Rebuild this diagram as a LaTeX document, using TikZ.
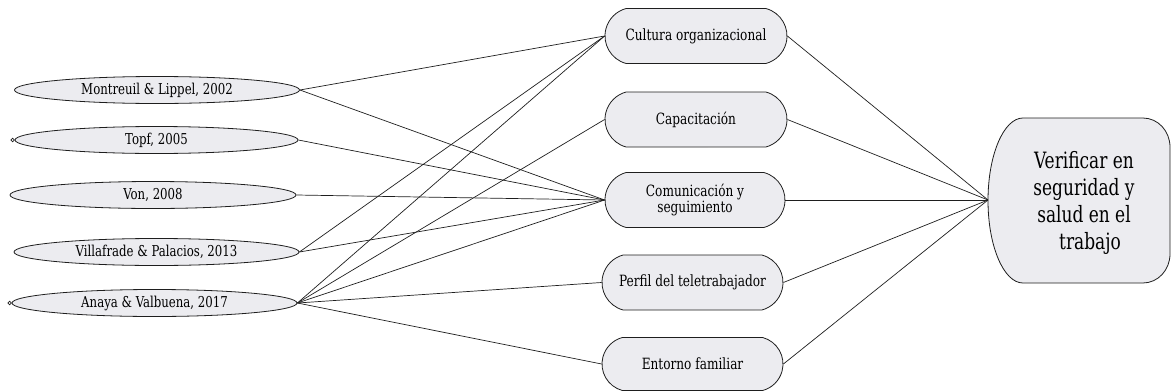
\documentclass[tikz,border=0pt]{standalone}
\usepackage{fontspec}
\setmainfont{DejaVu Serif Condensed}[FakeStretch=0.87]
\newfontfamily\bigfont{DejaVu Serif Condensed}[FakeStretch=0.84]
\usetikzlibrary{shapes.geometric,shapes.misc}
\definecolor{nodefill}{RGB}{236,236,240}
\definecolor{ink}{RGB}{30,30,30}
\begin{document}
\begin{tikzpicture}[x=1pt,y=-1pt,
  src/.style={ellipse, draw=ink, line width=0.8pt, fill=nodefill, minimum width=285pt, minimum height=27pt, inner sep=0pt, font=\fontsize{15}{20}\selectfont},
  mid/.style={rounded rectangle, rounded rectangle arc length=150, draw=ink, line width=0.8pt, fill=nodefill, minimum width=182pt, minimum height=55pt, inner sep=0pt, align=center, font=\fontsize{15.5}{16}\selectfont},
  link/.style={draw=ink, line width=0.7pt},
  curl/.style={draw=ink, line width=0.7pt}]
\useasboundingbox (0,0) rectangle (1171,391);

% right target shape
\path[draw=ink, line width=0.8pt, fill=nodefill]
  (1023,118) -- (1143,118)
  arc[start angle=-90, end angle=0, x radius=27, y radius=29]
  -- (1170,254)
  arc[start angle=0, end angle=90, x radius=27, y radius=29]
  -- (1023,283)
  arc[start angle=90, end angle=270, x radius=35, y radius=82.5]
  -- cycle;
\node[align=center, font=\bigfont\fontsize{22.5}{27}\selectfont] (R) at (1084,203)
  {Verificar en\\seguridad y\\salud en el\\\hspace*{12pt}trabajo};
\coordinate (Rw) at (988,200);

% sources
\node[src] (s1) at (157,90) {Montreuil \& Lippel, 2002};
\node[src, minimum width=283pt] (s2) at (156.5,140) {Topf, 2005};
\node[src, minimum width=286pt] (s3) at (153,195) {Von, 2008};
\node[src] (s4) at (156.5,252) {Villafrade \& Palacios, 2013};
\node[src] (s5) at (154.5,303) {Anaya \& Valbuena, 2017};

\draw[curl] ([xshift=-2pt]s2.west) circle[radius=1.8pt];
\draw[curl] ([xshift=-2pt]s5.west) circle[radius=1.8pt];

% middle
\node[mid] (m1) at (696,36) {Cultura organizacional};
\node[mid] (m2) at (696,119.5) {Capacitación};
\node[mid, minimum width=180pt] (m3) at (695,200) {Comunicación y\\seguimiento};
\node[mid, minimum width=181pt] (m4) at (692.5,282.5) {Perfil del teletrabajador};
\node[mid, minimum width=181pt, minimum height=53pt] (m5) at (692.5,364) {Entorno familiar};

% links left
\path[link] (s1.east) -- (m1.west);
\path[link] (s1.east) -- (m3.west);
\path[link] (s2.east) -- (m3.west);
\path[link] (s3.east) -- (m3.west);
\path[link] (s4.east) -- (m1.west);
\path[link] (s4.east) -- (m3.west);
\path[link] (s5.east) -- (m1.west);
\path[link] (s5.east) -- (m2.west);
\path[link] (s5.east) -- (m3.west);
\path[link] (s5.east) -- (m4.west);
\path[link] (s5.east) -- (m5.west);

% links right
\path[link] (m1.east) -- (Rw);
\path[link] (m2.east) -- (Rw);
\path[link] (m3.east) -- (Rw);
\path[link] (m4.east) -- (Rw);
\path[link] (m5.east) -- (Rw);
\end{tikzpicture}
\end{document}
